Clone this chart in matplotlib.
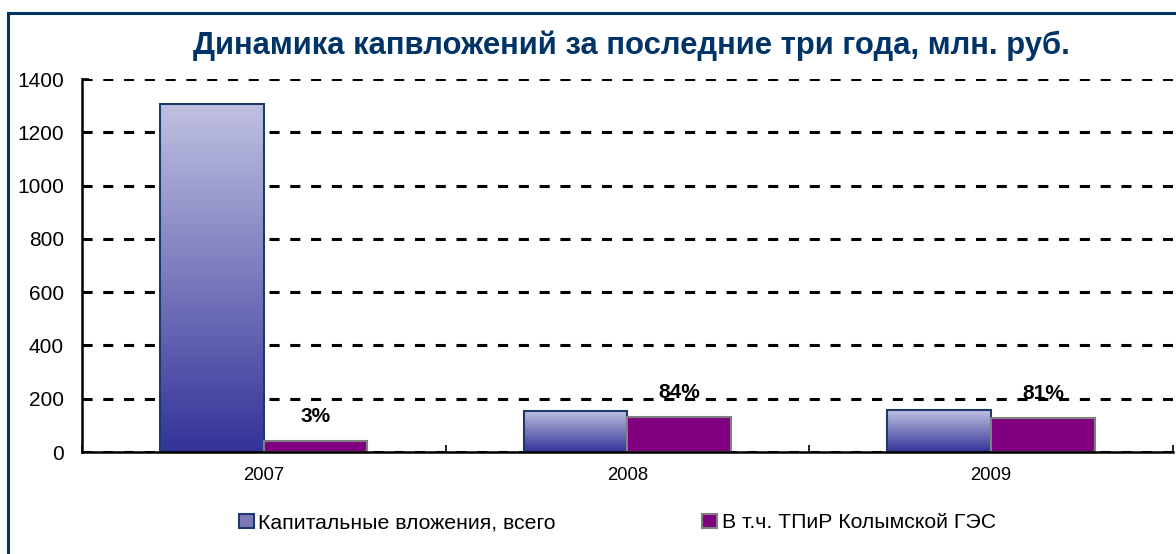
import numpy as np
import matplotlib
matplotlib.use("Agg")
import matplotlib.pyplot as plt
from matplotlib.colors import LinearSegmentedColormap
from matplotlib.patches import Rectangle
from matplotlib.lines import Line2D

plt.rcParams['font.family'] = ['Liberation Sans', 'DejaVu Sans']

years = ['2007', '2008', '2009']
total = [1306, 154, 157]
kolyma = [40, 130, 127]
shares = ['3%', '84%', '81%']
series_names = ['Капитальные вложения, всего', 'В т.ч. ТПиР Колымской ГЭС']
title = 'Динамика капвложений за последние три года, млн. руб.'

navy = '#003366'
grad = LinearSegmentedColormap.from_list('g', ['#333399', '#C0C1E1'])

fig = plt.figure(figsize=(11.76, 5.54), dpi=100)
ax = fig.add_axes([0.0697, 0.184, 0.9277, 0.6734])

x = np.arange(len(years))
w = 0.285

b1 = ax.bar(x - w / 2, total, w, color='none', edgecolor='#1F3A68', linewidth=1.5, zorder=3)
b2 = ax.bar(x + w / 2, kolyma, w, color='#800080', edgecolor='#808080', linewidth=1.5, zorder=3)

# gradient fill for the first series
g = np.linspace(0, 1, 256).reshape(-1, 1)
for r in b1:
    x0, y0 = r.get_x(), r.get_y()
    im = ax.imshow(g, cmap=grad, aspect='auto', origin='lower',
                   extent=[x0, x0 + r.get_width(), y0, y0 + r.get_height()], zorder=2)
    im.set_clip_path(r)

for i, s in enumerate(shares):
    ax.annotate(s, (x[i] + w / 2, kolyma[i]), xytext=(0, 11), textcoords='offset points',
                ha='center', va='bottom', fontsize=15, fontweight='bold', zorder=5)

ax.set_xlim(-0.5, 2.5)
ax.set_ylim(0, 1400)
ax.set_yticks(range(0, 1401, 200))
ax.set_xticks(x)
ax.set_xticklabels(years)
ax.set_xticks([-0.5, 0.5, 1.5, 2.5], minor=True)
ax.tick_params(axis='x', which='major', length=0, pad=11, labelsize=13.3)
ax.tick_params(axis='x', which='minor', direction='in', length=5, width=1.2)
ax.tick_params(axis='y', direction='in', length=5, width=1.2, labelsize=15, pad=13)
ax.yaxis.grid(True, linestyle=(0, (3.3, 3.5)), color='black', linewidth=2.2, zorder=1)
ax.set_axisbelow(True)
for sp in ['top', 'right']:
    ax.spines[sp].set_visible(False)
for sp in ['left', 'bottom']:
    ax.spines[sp].set_linewidth(1.8)
    ax.spines[sp].set_zorder(4)

fig.text(0.537, 0.918, title, ha='center', va='center', fontsize=22.3,
         fontweight='bold', color=navy)

# outer frame (top and left visible)
fig.add_artist(Line2D([0.0068, 0.0068], [0, 0.976], color=navy, linewidth=2.2))
fig.add_artist(Line2D([0.0068, 1.0], [0.976, 0.976], color=navy, linewidth=2.2))

h1 = Rectangle((0, 0), 1, 1, facecolor='#7A7AB8', edgecolor='#1F3A68', linewidth=1.5)
h2 = Rectangle((0, 0), 1, 1, facecolor='#800080', edgecolor='#808080', linewidth=1.5)
fig.legend([h1, h2], series_names, loc='center', bbox_to_anchor=(0.525, 0.056), ncol=2,
           frameon=False, fontsize=15.3, handlelength=0.7, handleheight=0.7,
           handletextpad=0.2, columnspacing=6.9)

fig.savefig('out.png', dpi=100)
